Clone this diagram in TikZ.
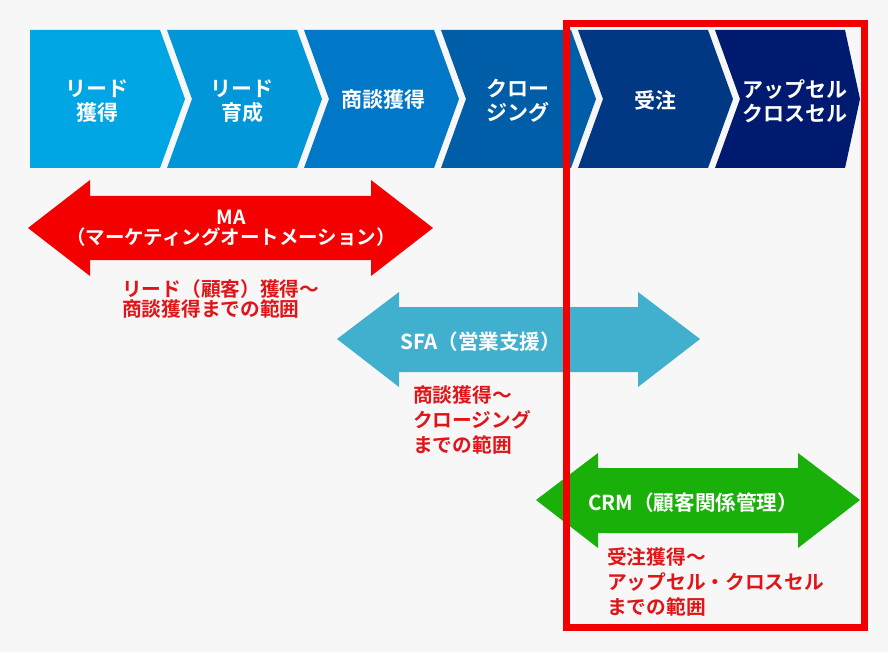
\documentclass[tikz,border=0pt]{standalone}
\usepackage{fontspec}
\setmainfont{Noto Sans CJK JP}[BoldFont={Noto Sans CJK JP Bold}]
\definecolor{bg}{RGB}{247,247,247}
\definecolor{cA}{RGB}{0,165,228}
\definecolor{cB}{RGB}{0,150,215}
\definecolor{cC}{RGB}{0,119,199}
\definecolor{cD}{RGB}{0,94,168}
\definecolor{cE}{RGB}{0,56,132}
\definecolor{cF}{RGB}{0,26,112}
\definecolor{mared}{RGB}{245,0,0}
\definecolor{sfablue}{RGB}{64,176,206}
\definecolor{crmgreen}{RGB}{26,176,10}
\definecolor{notered}{RGB}{225,20,24}
\definecolor{framered}{RGB}{240,0,0}
\begin{document}
\begin{tikzpicture}[x=1pt,y=-1pt,
  chevtext/.style={text=white,font=\bfseries\fontsize{21}{24}\selectfont,align=center,inner sep=0pt},
  bandtext/.style={text=white,font=\bfseries\fontsize{19.5}{20}\selectfont,align=center,inner sep=0pt},
  bandwide/.style={bandtext,font=\bfseries\fontsize{20.6}{22}\selectfont},
  note/.style={text=notered,font=\bfseries\fontsize{19.7}{20}\selectfont,align=left,anchor=north west,inner sep=0pt},
  notewide/.style={note,font=\bfseries\fontsize{19.7}{25}\selectfont},
  frame/.style={draw=framered,line width=7pt}
]
\fill[bg] (0,0) rectangle (888,652);
\useasboundingbox (0,0) rectangle (888,652);
% chevrons
\fill[cA] (30,30) -- (160,30) -- (185,99) -- (160,168) -- (30,168) -- cycle;
\foreach \x/\c in {167/cB,304/cC,441/cD,578/cE}{
  \fill[\c] (\x,30) -- ({\x+130},30) -- ({\x+155},99) -- ({\x+130},168) -- (\x,168) -- ({\x+25},99) -- cycle;
}
\fill[cF] (715,30) -- (845,30) -- (860,99) -- (845,168) -- (715,168) -- (740,99) -- cycle;
\node[chevtext] (s1) at (97,101) {リード\\獲得};
\node[chevtext] (s2) at (242,101) {リード\\育成};
\node[chevtext] (s3) at (383,100) {商談獲得};
\node[chevtext] (s4) at (518,101) {クロー\\ジング};
\node[chevtext] (s5) at (655,100) {受注};
\node[chevtext] (s6) at (795,101) {アップセル\\クロスセル};
% MA arrow
\fill[mared] (28,228) -- (90,180) -- (90,196) -- (371,196) -- (371,180) -- (433,228) -- (371,276) -- (371,260) -- (90,260) -- (90,276) -- cycle;
\node[bandtext] (ma) at (231,228) {MA\\（マーケティングオートメーション）};
\node[note] (manote) at (122,279) {リード（顧客）獲得～\\商談獲得までの範囲};
% SFA arrow
\fill[sfablue] (337,339) -- (399,292) -- (399,307) -- (638,307) -- (638,292) -- (700,339) -- (638,387) -- (638,372) -- (399,372) -- (399,387) -- cycle;
\node[bandwide,anchor=west] (sfa) at (400,342) {SFA（営業支援）};
\node[notewide] (sfanote) at (413,386) {商談獲得～\\クロージング\\までの範囲};
% CRM arrow
\fill[crmgreen] (536,500) -- (598,453) -- (598,468) -- (798,468) -- (798,453) -- (860,500) -- (798,548) -- (798,533) -- (598,533) -- (598,548) -- cycle;
\node[bandwide,anchor=west] (crm) at (588,503) {CRM（顧客関係管理）};
\node[notewide] (crmnote) at (607,547) {受注獲得～\\アップセル・クロスセル\\までの範囲};
% frame
\draw[frame] (566.5,24) rectangle (864,627);
\end{tikzpicture}
\end{document}
